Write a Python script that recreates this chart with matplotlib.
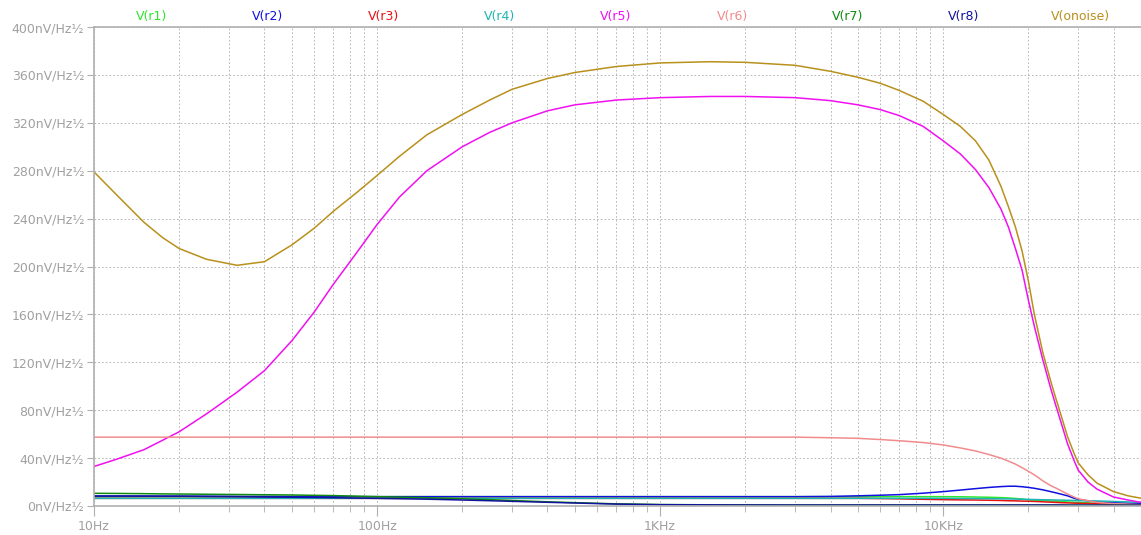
import numpy as np
import matplotlib
matplotlib.use("Agg")
import matplotlib.pyplot as plt
from matplotlib.ticker import FixedLocator, FuncFormatter, NullFormatter

freq = [10, 12, 15, 17.5, 20, 25, 32, 40, 50, 60, 70, 85, 100,
        120, 150, 200, 250, 300, 400, 500, 700, 1000, 1500, 2000, 3000, 4000,
        5000, 6000, 7000, 8500, 10000, 11500, 13000, 14500, 16000, 17000, 18000, 19000, 20000,
        21000, 22500, 24000, 25000, 26000, 27500, 29000, 30000, 32500, 35000, 40000, 45000, 50000]

# noise density, nV/sqrt(Hz)
v_r1 = [7.8, 7.8, 7.8, 7.8, 7.8, 7.8, 7.8, 7.8, 7.8, 7.8, 7.8, 7.8, 7.8,
        7.8, 7.8, 7.8, 7.8, 7.8, 7.8, 7.8, 7.8, 7.8, 7.8, 7.8, 7.8, 7.8,
        7.8, 7.8, 7.8, 7.8, 7.8, 7.7, 7.5, 7.3, 7.0, 6.7, 6.3, 5.8, 5.2,
        4.9, 4.6, 4.2, 4.0, 3.8, 3.4, 3.1, 3.0, 2.6, 2.2, 1.5, 1.2, 1.0]
v_r2 = [8.3, 8.3, 8.3, 8.2, 8.2, 8.1, 8.0, 8.0, 7.9, 7.9, 7.9, 7.8, 7.8,
        7.8, 7.8, 7.8, 7.8, 7.8, 7.8, 7.8, 7.8, 7.8, 7.8, 7.8, 7.8, 8.0,
        8.5, 9.0, 9.5, 10.7, 12.0, 13.3, 14.5, 15.5, 16.2, 16.5, 16.5, 16.1, 15.5,
        14.8, 13.5, 12.0, 11.0, 10.0, 8.5, 6.5, 5.5, 4.3, 3.5, 2.8, 2.3, 2.0]
v_r3 = [6.4, 6.4, 6.4, 6.4, 6.4, 6.4, 6.4, 6.4, 6.4, 6.4, 6.4, 6.4, 6.4,
        6.4, 6.4, 6.4, 6.4, 6.4, 6.4, 6.4, 6.4, 6.4, 6.4, 6.4, 6.4, 6.4,
        6.4, 6.2, 6.0, 5.6, 5.3, 5.1, 5.0, 4.8, 4.6, 4.4, 4.3, 4.1, 4.0,
        3.8, 3.5, 3.2, 3.0, 2.8, 2.6, 2.4, 2.3, 2.1, 1.9, 1.5, 1.2, 1.0]
v_r4 = [6.4, 6.4, 6.4, 6.4, 6.4, 6.4, 6.4, 6.4, 6.4, 6.4, 6.4, 6.4, 6.4,
        6.4, 6.4, 6.4, 6.4, 6.4, 6.4, 6.4, 6.4, 6.4, 6.4, 6.4, 6.4, 6.4,
        6.4, 6.4, 6.4, 6.4, 6.4, 6.3, 6.2, 6.1, 6.0, 5.9, 5.8, 5.6, 5.5,
        5.4, 5.2, 5.1, 5.0, 4.9, 4.8, 4.6, 4.5, 4.3, 4.2, 3.8, 3.4, 3.0]
v_r5 = [33, 39, 47, 55, 62, 77, 95, 113, 138, 162, 185, 212, 235,
        258, 280, 300, 312, 320, 330, 335, 339, 341, 342, 342, 341, 338.5,
        335, 331, 326, 317, 305, 294, 281, 266, 248, 233, 215, 197, 172,
        150, 122, 98, 84, 71, 52, 38, 30, 20, 14, 7.5, 5, 3]
v_r6 = [57.5, 57.5, 57.5, 57.5, 57.5, 57.5, 57.5, 57.5, 57.5, 57.5, 57.5, 57.5, 57.5,
        57.5, 57.5, 57.5, 57.5, 57.5, 57.5, 57.5, 57.5, 57.5, 57.5, 57.5, 57.5, 57.0,
        56.5, 55.5, 54.5, 53, 51, 48.5, 46, 43, 40, 37.5, 35, 32, 29,
        26, 21, 17, 15, 13, 10, 7.5, 6, 4.5, 3, 2, 1.5, 1]
v_r7 = [10.6, 10.5, 10.3, 10.1, 10.0, 9.8, 9.6, 9.4, 9.2, 8.9, 8.7, 8.2, 7.8,
        7.4, 6.9, 6.0, 5.3, 4.6, 3.5, 2.8, 1.8, 1.2, 1.0, 0.9, 0.8, 0.8,
        0.8, 0.8, 0.8, 0.8, 0.8, 0.8, 0.8, 0.8, 0.8, 0.8, 0.8, 0.8, 0.8,
        0.8, 0.8, 0.8, 0.8, 0.8, 0.7, 0.7, 0.7, 0.7, 0.7, 0.6, 0.6, 0.6]
v_r8 = [8.3, 8.3, 8.2, 8.2, 8.2, 8.0, 7.8, 7.5, 7.3, 7.1, 6.9, 6.6, 6.4,
        6.1, 5.7, 5.0, 4.4, 3.9, 3.1, 2.5, 1.6, 1.1, 0.95, 0.85, 0.8, 0.8,
        0.8, 0.8, 0.8, 0.8, 0.8, 0.8, 0.8, 0.8, 0.8, 0.8, 0.8, 0.8, 0.8,
        0.8, 0.8, 0.8, 0.8, 0.8, 0.7, 0.7, 0.7, 0.7, 0.7, 0.6, 0.6, 0.6]
v_onoise = [279, 260, 237, 224, 215, 206, 201, 204, 218, 232, 246, 262, 276,
            292, 310, 327, 339, 348, 357, 362, 367, 370, 371, 370.5, 368, 363,
            358, 353, 347, 338, 327, 317, 305, 289, 267, 250, 233, 213, 188,
            160, 128, 104, 90, 77, 58, 44, 36, 26, 19, 12, 8.5, 6.5]

names = ["V(r1)", "V(r2)", "V(r3)", "V(r4)", "V(r5)", "V(r6)", "V(r7)", "V(r8)", "V(onoise)"]
series = [v_r1, v_r2, v_r3, v_r4, v_r5, v_r6, v_r7, v_r8, v_onoise]
colors = ["#2ee62e", "#1010e0", "#e81010", "#1cb4b4", "#f010f0",
          "#f08c8c", "#108a10", "#12129c", "#b8901c"]

yticks = list(range(0, 401, 40))
xdecades = [10, 100, 1000, 10000]
xdecade_labels = ["10Hz", "100Hz", "1KHz", "10KHz"]

grey = "#b0b0b0"
txtgrey = "#a0a0a0"

fig = plt.figure(figsize=(11.41, 5.35), dpi=100)
ax = fig.add_axes([94 / 1141, 1 - 506 / 535, 1047 / 1141, 479 / 535])

for name, vals, c in zip(names, series, colors):
    ax.plot(freq, vals, color=c, lw=1.1, solid_joinstyle="round")

ax.set_xscale("log")
ax.set_xlim(10, 50000)
ax.set_ylim(0, 400)

minor = [m * d for d in xdecades for m in range(2, 10) if m * d <= 50000]
ax.xaxis.set_major_locator(FixedLocator(xdecades))
ax.xaxis.set_major_formatter(FuncFormatter(lambda v, p: xdecade_labels[xdecades.index(v)] if v in xdecades else ""))
ax.xaxis.set_minor_locator(FixedLocator(minor))
ax.xaxis.set_minor_formatter(NullFormatter())
ax.yaxis.set_major_locator(FixedLocator(yticks))
ax.yaxis.set_major_formatter(FuncFormatter(lambda v, p: f"{int(v)}nV/Hz\u00bd"))

ax.grid(True, which="both", color="#acacac", lw=0.6, linestyle=(0, (2, 2.5)))
ax.set_axisbelow(True)

for s in ["left", "bottom", "top"]:
    ax.spines[s].set_color(grey)
    ax.spines[s].set_linewidth(1.2)
ax.spines["right"].set_visible(False)

ax.tick_params(axis="y", which="major", direction="out", length=5, color=grey,
               labelcolor=txtgrey, labelsize=9, pad=2)
ax.tick_params(axis="x", which="major", direction="out", length=7, color=grey,
               labelcolor=txtgrey, labelsize=9, pad=3)
ax.tick_params(axis="x", which="minor", direction="out", length=4, color=grey)
ax.tick_params(top=False, right=False, which="both")

# trace labels across the top
for i, (name, c) in enumerate(zip(names, colors)):
    ax.text(0.0554 + 0.1108 * i, 1.021, name, color=c, fontsize=9,
            ha="center", va="center", transform=ax.transAxes)

fig.savefig("out.png", dpi=100)
